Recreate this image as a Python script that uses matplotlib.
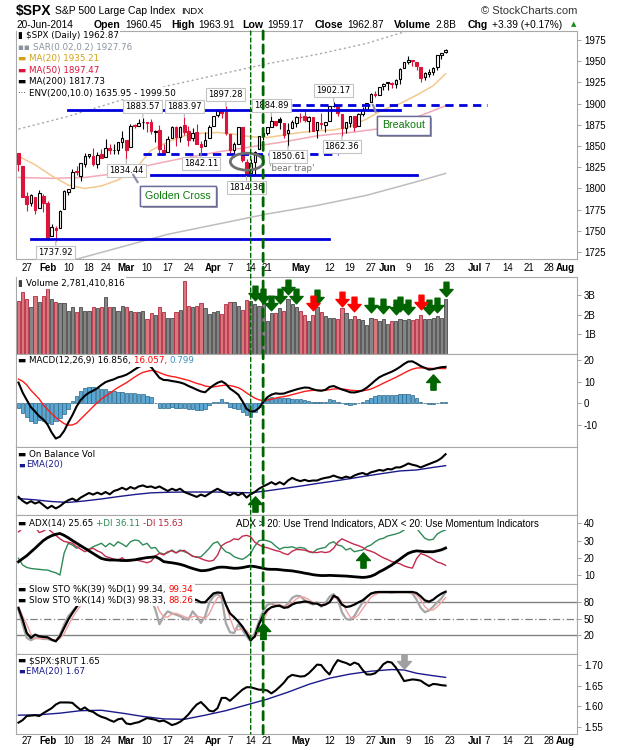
import numpy as np
import pandas as pd
import matplotlib
matplotlib.use("Agg")
import matplotlib.pyplot as plt
import matplotlib.patheffects as pe
import matplotlib.text as mtext
from matplotlib.path import Path
from matplotlib.patches import Ellipse, ConnectionPatch

plt.rcParams['font.family'] = ['DejaVu Sans']

# ---------------- data ----------------
# trading calendar, the x axis counts trading days
holidays = ['2014-02-17', '2014-04-18', '2014-05-26', '2014-07-04']
calendar = pd.bdate_range('2014-01-23', '2014-08-08')
calendar = calendar[~calendar.isin(pd.to_datetime(holidays))]

tick_dates = ['2014-01-27', '2014-02-03', '2014-02-10', '2014-02-18', '2014-02-24',
              '2014-03-03', '2014-03-10', '2014-03-17', '2014-03-24', '2014-04-01',
              '2014-04-07', '2014-04-14', '2014-04-21', '2014-05-01', '2014-05-12',
              '2014-05-19', '2014-05-27', '2014-06-02', '2014-06-09', '2014-06-16',
              '2014-06-23', '2014-07-01', '2014-07-07', '2014-07-14', '2014-07-21',
              '2014-07-28', '2014-08-01']
tick_labels = ['27', 'Feb', '10', '18', '24', 'Mar', '10', '17', '24', 'Apr', '7', '14', '21',
               'May', '12', '19', '27', 'Jun', '9', '16', '23', 'Jul', '7', '14', '21', '28', 'Aug']

prev_close = 1844.86
opens = [1842.29, 1826.96, 1791.03, 1783.00, 1790.15, 1777.17, 1790.88, 1782.68, 1743.82, 1753.38,
         1752.99, 1776.01, 1796.20, 1800.45, 1820.12, 1814.82, 1828.46, 1838.22, 1838.70, 1829.24,
         1841.07, 1836.78, 1847.66, 1845.79, 1844.90, 1855.12, 1857.68, 1849.23, 1874.05, 1874.18,
         1878.52, 1877.86, 1878.26, 1866.15, 1869.06, 1845.07, 1842.81, 1858.92, 1872.25, 1860.09,
         1874.53, 1867.67, 1859.48, 1867.09, 1852.11, 1850.07, 1859.16, 1873.96, 1886.61, 1891.43,
         1890.25, 1863.92, 1845.48, 1852.64, 1872.28, 1830.65, 1818.18, 1831.45, 1846.01, 1861.73,
         1865.79, 1872.57, 1879.32, 1881.97, 1877.72, 1865.00, 1870.78, 1877.10, 1884.39, 1885.30,
         1879.45, 1883.69, 1868.53, 1877.39, 1875.27, 1880.03, 1896.75, 1897.13, 1888.16, 1871.19,
         1876.66, 1884.88, 1873.34, 1888.19, 1893.32, 1902.01, 1911.77, 1910.60, 1920.33, 1923.87,
         1923.07, 1923.06, 1928.52, 1942.41, 1948.97, 1950.34, 1949.37, 1943.35, 1930.80, 1934.84,
         1937.15, 1942.73, 1957.50, 1960.45]
highs = [1842.29, 1826.96, 1795.98, 1793.87, 1790.15, 1798.77, 1793.88, 1784.83, 1758.73, 1755.79,
         1774.06, 1798.03, 1799.94, 1823.54, 1826.55, 1830.25, 1841.65, 1840.76, 1847.50, 1842.79,
         1846.13, 1858.71, 1852.91, 1852.65, 1854.53, 1867.92, 1857.68, 1876.23, 1876.53, 1881.94,
         1883.57, 1877.87, 1882.35, 1868.38, 1874.40, 1852.44, 1862.30, 1873.76, 1874.14, 1873.49,
         1883.97, 1873.34, 1871.87, 1875.92, 1855.55, 1866.63, 1875.18, 1885.84, 1893.17, 1893.80,
         1897.28, 1864.04, 1854.95, 1872.43, 1872.53, 1835.07, 1834.19, 1844.02, 1862.31, 1869.63,
         1871.89, 1884.89, 1879.75, 1884.06, 1877.72, 1877.01, 1880.60, 1885.20, 1888.59, 1891.33,
         1885.51, 1883.69, 1878.83, 1889.07, 1878.57, 1897.13, 1902.17, 1897.13, 1888.16, 1878.28,
         1886.00, 1884.88, 1888.80, 1896.33, 1901.26, 1912.28, 1914.46, 1920.03, 1924.03, 1925.88,
         1925.07, 1928.63, 1941.74, 1949.44, 1955.55, 1950.86, 1949.37, 1943.35, 1937.30, 1941.15,
         1943.69, 1957.74, 1959.87, 1963.91]
lows = [1820.06, 1790.29, 1772.88, 1779.49, 1770.45, 1777.17, 1772.26, 1739.66, 1743.82, 1737.92,
        1752.99, 1776.01, 1791.83, 1800.41, 1815.97, 1809.22, 1825.59, 1835.48, 1826.99, 1824.58,
        1835.60, 1836.78, 1840.19, 1840.66, 1841.13, 1847.67, 1834.44, 1849.23, 1871.11, 1874.18,
        1870.56, 1867.04, 1863.88, 1854.38, 1841.86, 1839.57, 1842.81, 1858.92, 1850.35, 1854.63,
        1863.46, 1849.69, 1855.96, 1852.56, 1842.11, 1850.07, 1859.16, 1873.96, 1883.79, 1882.65,
        1863.26, 1841.48, 1837.49, 1852.38, 1830.87, 1814.36, 1815.80, 1816.29, 1846.01, 1856.72,
        1863.18, 1872.57, 1873.91, 1870.24, 1859.70, 1850.61, 1870.78, 1872.69, 1878.04, 1878.50,
        1866.77, 1867.72, 1859.79, 1870.05, 1867.02, 1880.03, 1896.06, 1885.77, 1862.36, 1864.82,
        1872.42, 1868.14, 1873.34, 1885.39, 1893.32, 1902.01, 1907.30, 1909.82, 1916.64, 1915.98,
        1918.79, 1918.60, 1922.93, 1942.41, 1947.16, 1944.64, 1940.08, 1925.78, 1927.69, 1930.91,
        1933.55, 1939.29, 1952.26, 1959.17]
closes = [1828.46, 1790.29, 1781.56, 1792.50, 1774.20, 1794.19, 1782.59, 1741.89, 1755.20, 1751.64,
          1773.43, 1797.02, 1799.84, 1819.75, 1819.26, 1829.83, 1838.63, 1840.76, 1828.75, 1839.78,
          1836.25, 1847.61, 1845.12, 1845.16, 1854.29, 1859.45, 1845.73, 1873.91, 1873.81, 1877.03,
          1878.04, 1877.17, 1867.63, 1868.20, 1846.34, 1841.13, 1858.83, 1872.25, 1860.77, 1872.01,
          1866.52, 1857.44, 1865.62, 1852.56, 1849.04, 1857.62, 1872.34, 1885.52, 1890.90, 1888.77,
          1865.09, 1845.04, 1851.96, 1872.18, 1833.08, 1815.69, 1830.61, 1842.98, 1862.31, 1864.85,
          1871.89, 1879.55, 1875.39, 1878.61, 1863.40, 1869.43, 1878.33, 1883.95, 1883.68, 1881.14,
          1884.66, 1867.72, 1878.21, 1875.63, 1878.48, 1896.65, 1897.45, 1888.53, 1870.85, 1877.86,
          1885.08, 1872.83, 1888.03, 1892.49, 1900.53, 1911.91, 1909.78, 1920.03, 1923.57, 1924.97,
          1924.24, 1927.88, 1940.46, 1949.44, 1951.27, 1950.79, 1943.89, 1930.11, 1936.16, 1937.78,
          1941.99, 1956.98, 1959.48, 1962.87]
volume_b = [2.68, 3.14, 2.80, 2.40, 2.95, 2.63, 2.97, 3.40, 2.80, 2.63,
            2.58, 2.58, 2.20, 2.37, 2.15, 2.37, 2.20, 2.20, 2.37, 2.32,
            2.37, 2.90, 2.37, 2.37, 2.20, 2.42, 2.37, 2.20, 2.16, 2.16,
            2.20, 1.80, 2.10, 2.00, 2.37, 2.15, 1.85, 1.82, 2.15, 2.25,
            3.73, 2.45, 2.37, 2.42, 2.60, 2.32, 2.05, 2.15, 2.20, 2.05,
            2.55, 2.63, 2.67, 2.42, 2.25, 2.73, 2.68, 2.55, 2.45, 2.63,
            1.70, 2.11, 2.11, 2.32, 2.20, 2.80, 2.55, 2.40, 2.20, 1.97,
            1.70, 2.00, 2.37, 2.15, 1.91, 1.85, 1.85, 1.77, 2.32, 2.11,
            1.77, 1.91, 1.77, 1.72, 1.46, 1.85, 1.77, 1.68, 1.80, 1.51,
            1.68, 1.68, 1.77, 1.72, 1.77, 1.74, 1.77, 1.97, 1.80, 1.80,
            1.85, 1.91, 1.85, 2.78]

# moving averages read at a few dates (trading day numbers)
ma20_days = [0, 4, 8, 12, 16, 20, 24, 28, 32, 36, 40, 44, 48, 52, 56, 60, 64, 68, 72, 76, 80, 84, 88, 92, 96, 100, 103]
ma20 = [1838, 1828, 1815, 1804, 1800, 1803, 1810, 1822, 1845, 1855, 1862, 1865, 1866, 1864, 1861, 1860,
        1863, 1866, 1868, 1869, 1873, 1882, 1893, 1900, 1910, 1921, 1935.21]
ma50_days = [0, 8, 16, 24, 32, 40, 48, 56, 64, 72, 80, 88, 96, 103]
ma50 = [1813, 1812, 1813, 1818, 1828, 1836, 1843, 1849, 1855, 1862, 1866, 1871, 1884, 1897.47]
ma200_days = [0, 12, 24, 36, 48, 60, 72, 84, 96, 103]
ma200 = [1700, 1714, 1730, 1746, 1758, 1770, 1780, 1792, 1808, 1817.73]
env_upper = [1870, 1885, 1903, 1921, 1934, 1947, 1958, 1971, 1989, 1999.50]

macd = [9.6, 5.0, 1.5, -1.8, -3.8, -6.0, -7.5, -9.8, -13.5, -16.3,
        -15.4, -12.8, -9.0, -5.5, -1.5, 1.5, 3.5, 4.9, 5.8, 7.0,
        8.5, 9.8, 10.5, 11.1, 12.0, 12.5, 13.2, 14.3, 15.6, 16.8,
        17.6, 17.8, 16.8, 14.2, 11.8, 10.8, 10.7, 10.3, 10.0, 9.6,
        9.0, 8.0, 7.2, 6.3, 5.5, 5.1, 6.8, 8.3, 9.5, 10.2,
        9.0, 6.8, 5.5, 4.0, 1.0, -2.5, -3.8, -3.6, -2.2, 0.5,
        2.8, 4.0, 4.6, 4.4, 4.5, 5.2, 5.8, 6.4, 6.9, 7.3,
        7.2, 6.5, 6.0, 5.8, 6.2, 7.6, 8.0, 7.2, 6.4, 5.8,
        5.1, 5.0, 5.4, 6.0, 7.2, 8.8, 10.5, 12.0, 13.0, 13.8,
        14.6, 15.6, 16.8, 18.2, 19.3, 19.4, 18.4, 17.2, 16.4, 15.6,
        15.8, 16.3, 16.7, 16.856]
macd_signal = [11.2, 10.2, 8.5, 6.0, 4.0, 2.0, -0.8, -2.8, -4.8, -6.6,
               -8.0, -9.4, -10.1, -10.0, -9.2, -7.3, -5.4, -3.5, -1.5, 0.3,
               2.0, 3.4, 4.6, 6.0, 7.3, 8.4, 9.5, 10.8, 12.1, 13.3,
               14.3, 14.8, 15.2, 15.0, 14.2, 13.4, 12.8, 12.4, 12.1, 11.6,
               11.1, 10.6, 9.9, 9.2, 8.7, 8.0, 7.7, 7.6, 7.9, 8.2,
               8.4, 8.2, 7.8, 7.2, 6.2, 4.8, 3.6, 2.4, 1.6, 1.3,
               1.5, 1.9, 2.4, 2.8, 3.1, 3.5, 4.0, 4.5, 5.0, 5.5,
               5.8, 6.0, 6.0, 6.0, 6.0, 6.3, 6.6, 6.7, 6.6, 6.4,
               6.1, 5.9, 5.8, 5.8, 6.1, 6.6, 7.4, 8.3, 9.3, 10.2,
               11.1, 12.0, 13.0, 14.0, 15.0, 15.8, 16.3, 16.4, 16.3, 16.2,
               16.1, 16.1, 16.1, 16.057]
macd_hist = [-2.3, -4.6, -6.5, -8.0, -9.0, -7.7, -8.4, -9.2, -9.5, -8.0,
             -6.9, -5.0, -2.5, 1.0, 3.5, 5.7, 7.0, 7.6, 7.4, 7.0,
             6.8, 6.4, 5.9, 5.6, 5.2, 5.1, 4.8, 4.6, 4.6, 4.4,
             4.2, 3.6, 2.7, 0.2, -2.0, -2.1, -2.2, -1.6, -2.2, -2.0,
             -2.3, -2.5, -2.6, -2.9, -3.1, -2.6, -1.0, 0.6, 0.8, 2.0,
             0.8, -1.5, -2.3, -2.5, -4.0, -5.4, -6.2, -3.8, -1.5, 1.5,
             2.3, 2.8, 2.6, 2.3, 2.3, 2.3, 2.0, 1.8, 1.8, 1.5,
             1.2, 0.8, 0.5, 0.8, 0.8, 1.8, 1.5, 0.8, 0.3, -0.3,
             -0.8, -0.3, 0.3, 0.8, 1.5, 2.3, 3.4, 3.8, 3.8, 3.8,
             3.8, 3.8, 4.2, 4.2, 4.2, 3.8, 2.3, 0.8, 0.3, -0.5,
             -0.3, 0.3, 0.6, 0.799]

# on balance volume, relative units (panel has no scale)
obv = [26.6, 20.8, 16.9, 20.3, 16.9, 19.3, 14.5, 9.7, 13.5, 9.7,
       13.0, 17.9, 21.7, 24.2, 20.8, 25.6, 29.0, 32.4, 30.0, 32.9,
       30.4, 33.8, 30.4, 35.3, 37.2, 40.1, 37.2, 41.1, 38.6, 42.0,
       43.5, 41.1, 42.0, 39.6, 42.0, 38.6, 35.3, 38.6, 36.2, 38.6,
       33.8, 31.4, 29.0, 26.6, 30.0, 27.5, 31.4, 35.3, 38.6, 35.3,
       32.4, 29.0, 32.4, 29.0, 32.4, 25.6, 30.4, 33.8, 38.6, 42.0,
       44.9, 48.3, 44.9, 48.3, 44.9, 50.7, 54.6, 51.7, 49.8, 51.7,
       49.8, 50.7, 50.7, 53.1, 54.6, 55.6, 58.0, 55.6, 54.1, 56.5,
       54.6, 58.0, 60.4, 61.8, 59.4, 62.8, 64.3, 66.2, 65.2, 67.6,
       67.1, 70.0, 70.0, 72.5, 75.8, 73.9, 72.5, 70.0, 72.5, 74.9,
       77.3, 79.7, 83.6, 89.4]
obv_ema_days = [0, 4, 8, 12, 16, 20, 24, 28, 32, 36, 40, 44, 48, 52, 56, 60, 64, 68, 72, 76, 80, 84, 88, 92, 96, 100, 103]
obv_ema = [24.2, 22.3, 19.8, 18.5, 20.7, 23.6, 27.0, 30.1, 32.6, 33.4, 33.8, 33.8, 33.8, 33.2, 32.6, 35.6,
           39.0, 42.5, 46.3, 49.8, 53.5, 57.5, 61.2, 64.8, 66.2, 70.0, 72.5]

adx = [17.7, 19.5, 21.2, 23.4, 25.5, 27.8, 30.0, 31.6, 32.8, 33.6,
       34.1, 33.0, 31.6, 30.0, 28.5, 27.0, 25.5, 24.0, 22.5, 21.0,
       19.6, 19.0, 18.7, 18.7, 18.6, 18.4, 18.4, 18.6, 18.8, 19.3,
       19.7, 20.1, 20.3, 20.6, 19.5, 17.8, 17.4, 17.1, 16.7, 16.2,
       15.5, 14.6, 13.8, 13.1, 12.5, 12.6, 13.0, 13.7, 14.4, 14.6,
       14.5, 14.2, 13.9, 14.0, 14.3, 14.8, 15.2, 14.9, 14.4, 13.9,
       13.4, 13.3, 13.3, 13.1, 12.8, 12.6, 12.4, 12.0, 11.6, 11.1,
       10.7, 10.2, 9.9, 9.7, 9.7, 9.8, 9.7, 9.6, 9.5, 9.4,
       9.2, 9.0, 8.8, 8.6, 8.8, 9.3, 10.3, 11.8, 13.0, 14.4,
       15.8, 17.5, 19.2, 21.0, 22.6, 23.5, 24.0, 23.8, 23.5, 23.5,
       23.5, 24.0, 24.6, 25.65]
plus_di = [19.7, 15.8, 14.4, 13.8, 13.5, 13.3, 13.0, 12.9, 12.0, 11.3,
           10.0, 22.6, 28.4, 27.4, 25.5, 26.8, 25.5, 24.9, 26.4, 27.4,
           28.4, 26.4, 28.4, 26.8, 29.3, 28.0, 26.4, 29.3, 30.3, 29.9,
           27.4, 28.4, 25.5, 26.0, 22.9, 22.2, 22.9, 24.5, 22.9, 24.5,
           23.5, 22.6, 21.0, 20.2, 20.6, 22.9, 25.5, 28.4, 29.3, 26.0,
           23.5, 22.6, 20.6, 19.7, 19.1, 20.5, 22.6, 26.8, 29.9, 30.3,
           29.9, 29.0, 26.8, 24.9, 26.0, 26.0, 26.4, 25.5, 26.0, 25.5,
           23.5, 22.9, 24.9, 25.5, 26.0, 28.4, 29.3, 27.4, 26.8, 24.5,
           25.5, 23.5, 24.1, 24.5, 26.4, 27.4, 29.3, 30.7, 31.3, 32.6,
           33.2, 33.8, 34.6, 36.1, 38.4, 39.0, 37.1, 34.2, 31.3, 30.3,
           30.7, 33.8, 35.2, 36.11]
minus_di = [35.0, 37.0, 40.0, 39.0, 38.0, 34.6, 35.5, 37.0, 35.0, 33.0,
            31.0, 29.5, 29.0, 28.4, 26.5, 25.0, 23.5, 24.9, 25.5, 24.0,
            23.0, 20.8, 20.0, 19.2, 18.7, 20.0, 18.0, 18.2, 18.7, 18.4,
            17.8, 17.1, 18.0, 21.0, 22.6, 21.6, 23.5, 24.0, 22.8, 24.0,
            24.3, 22.5, 20.8, 20.6, 19.5, 18.6, 18.0, 18.5, 21.5, 27.0,
            28.6, 29.5, 31.0, 30.5, 32.5, 33.0, 32.2, 29.0, 27.5, 26.3,
            25.8, 25.0, 24.2, 23.7, 22.5, 21.8, 23.8, 24.8, 24.7, 24.4,
            23.7, 23.2, 23.0, 23.5, 23.0, 23.5, 25.5, 29.0, 31.0, 29.9,
            28.8, 27.8, 27.0, 26.0, 24.5, 23.8, 22.8, 21.3, 20.0, 19.0,
            17.8, 17.2, 16.5, 15.3, 14.5, 14.0, 19.5, 22.5, 21.6, 20.5,
            19.0, 17.5, 16.8, 15.63]

sto_k39 = [69.7, 48.5, 24.2, 15.2, 21.2, 18.2, 17.0, 16.4, 12.1, 9.1,
           18.2, 33.3, 48.5, 60.6, 71.5, 82, 86, 88, 90, 87,
           90, 91, 93, 94, 95, 96, 90, 96, 97, 98,
           98, 97, 94, 92, 88, 88, 90, 88, 87, 88,
           90, 89, 86, 84, 80, 80, 88, 96, 98, 97,
           76, 60, 53, 45, 36, 24, 11, 18, 40, 56,
           66, 71, 73, 74, 70, 71, 76, 79, 80, 81.5,
           80.5, 78, 77.6, 74, 75.8, 80, 92, 88, 75.8, 71.5,
           72.7, 75.8, 80, 83.6, 89.7, 95.8, 98.2, 98.8, 98.8, 98.8,
           98.8, 98.8, 98.8, 98.8, 98.8, 98.8, 97, 90.9, 83.6, 81.2,
           84.8, 90.9, 95.8, 99.34]
sto_k14 = [66.7, 39.4, 15.2, 11.0, 15.2, 15.2, 13.3, 13.3, 11.0, 9.1,
           21.2, 39.4, 54.5, 63.6, 72.7, 84, 90, 92, 94, 85,
           88, 90, 94, 95, 96, 97, 82, 95, 97, 98,
           98, 95, 86, 67, 40, 54.5, 63.6, 60, 57.6, 54.5,
           50, 48.5, 63.6, 54.5, 42.4, 54.5, 78.8, 91, 95, 88,
           42.4, 25.5, 24.2, 39.4, 30, 18.2, 9.1, 24.2, 45.5, 63.6,
           75.8, 77.6, 75, 72.7, 71.5, 77.6, 88, 92, 91, 84,
           79, 76, 80, 72, 78, 90, 95, 85, 62, 50,
           48, 55, 68, 80, 90, 96, 97, 98, 98, 98,
           97, 98, 98, 98, 98, 96, 85, 70, 62, 65,
           72, 80, 87, 98.33]
sto_d3 = [72, 55, 40, 22, 14, 14, 14.5, 14, 12.5, 11,
          14, 23, 38, 52, 64, 74, 82, 89, 92, 90,
          89, 88, 91, 93, 95, 96, 92, 91, 91, 97,
          98, 97, 93, 83, 64, 54, 53, 59, 60, 57,
          54, 51, 54, 55, 53, 50, 59, 75, 88, 91,
          75, 52, 31, 30, 31, 29, 19, 17, 26, 44,
          62, 72, 76, 75, 73, 74, 79, 86, 90, 89,
          85, 80, 78, 76, 77, 80, 88, 90, 81, 66,
          53, 51, 57, 68, 79, 89, 94, 97, 98, 98,
          98, 98, 98, 98, 98, 97, 93, 85, 72, 66,
          66, 72, 80, 88.26]

spx_rut = [1.560, 1.566, 1.576, 1.577, 1.578, 1.576, 1.583, 1.589, 1.595, 1.604,
           1.609, 1.609, 1.609, 1.608, 1.599, 1.591, 1.597, 1.589, 1.586, 1.579,
           1.574, 1.571, 1.566, 1.562, 1.568, 1.570, 1.558, 1.556, 1.559, 1.561,
           1.566, 1.571, 1.569, 1.567, 1.563, 1.565, 1.560, 1.554, 1.557, 1.562,
           1.570, 1.580, 1.593, 1.604, 1.610, 1.600, 1.589, 1.587, 1.595, 1.620,
           1.620, 1.613, 1.622, 1.631, 1.640, 1.646, 1.646, 1.643, 1.640, 1.640,
           1.638, 1.631, 1.638, 1.647, 1.657, 1.670, 1.676, 1.674, 1.672, 1.673,
           1.680, 1.690, 1.701, 1.700, 1.687, 1.677, 1.697, 1.712, 1.708, 1.705,
           1.700, 1.706, 1.702, 1.688, 1.677, 1.677, 1.680, 1.689, 1.702, 1.708,
           1.706, 1.694, 1.678, 1.661, 1.663, 1.665, 1.664, 1.662, 1.655, 1.649,
           1.654, 1.653, 1.651, 1.650]
ratio_ema_days = [0, 5, 10, 15, 20, 25, 30, 35, 40, 45, 50, 55, 60, 65, 70, 75, 80, 85, 90, 93, 96, 100, 103]
ratio_ema = [1.578, 1.579, 1.583, 1.589, 1.590, 1.583, 1.575, 1.569, 1.568, 1.578, 1.589, 1.603,
             1.617, 1.634, 1.653, 1.668, 1.678, 1.685, 1.689, 1.688, 1.680, 1.674, 1.670]

# annotations drawn on the chart
high_label_dates = ['2014-03-07', '2014-03-21', '2014-04-04', '2014-04-22', '2014-05-13']
low_label_dates = ['2014-02-05', '2014-03-03', '2014-03-27', '2014-04-11', '2014-04-28', '2014-05-15']
level_lines = [  # price, from, to, dashed
    (1892.0, '2014-02-10', '2014-06-05', False),
    (1898.8, '2014-04-29', '2014-07-07', True),
    (1840.7, '2014-03-07', '2014-05-14', True),
    (1815.4, '2014-03-11', '2014-06-11', False),
    (1740.8, '2014-01-28', '2014-05-12', False),
]
marker_dates = ['2014-04-14', '2014-04-17']
vol_up_arrow_dates = ['2014-04-15', '2014-04-17', '2014-04-22', '2014-04-24', '2014-04-28', '2014-04-30',
                      '2014-05-07', '2014-05-27', '2014-05-30', '2014-06-04', '2014-06-05', '2014-06-09',
                      '2014-06-16', '2014-06-18', '2014-06-20']
vol_up_arrow_at = [3.10, 2.95, 2.62, 2.96, 3.39, 2.93, 2.88, 2.49, 2.45, 2.37, 2.54, 2.37, 2.37, 2.49, 3.31]
vol_dn_arrow_dates = ['2014-05-06', '2014-05-15', '2014-05-20', '2014-06-12']
vol_dn_arrow_at = [2.62, 2.79, 2.54, 2.66]

# ---------------- drawing ----------------
RED = '#dc143c'
GREEN = '#006400'
FW, FH = 620, 750
L, R = 16, 577
AXFONT = 'Liberation Sans'


def day(s):
    return calendar.get_loc(pd.Timestamp(s))


def arrow_marker(down):
    s = -1 if down else 1
    verts = [(-0.17, -0.5 * s), (0.17, -0.5 * s), (0.17, 0.0), (0.45, 0.0), (0.0, 0.5 * s),
             (-0.45, 0.0), (-0.17, 0.0), (-0.17, -0.5 * s)]
    return Path(verts, [Path.MOVETO] + [Path.LINETO] * 6 + [Path.CLOSEPOLY])


def legend_row(ax, x, y, parts, size=6.3):
    box = dict(facecolor='white', edgecolor='none', pad=1.0)
    t = ax.text(x, y, parts[0][0], color=parts[0][1], fontsize=size, transform=ax.transAxes,
                ha='left', va='center', bbox=box, zorder=10)
    for s, c in parts[1:]:
        t = ax.annotate(s, xy=(1, 0), xycoords=t, ha='left', va='bottom', color=c,
                        fontsize=size, bbox=box, zorder=10)
    return t


fig = plt.figure(figsize=(FW / 100, FH / 100), dpi=100)


def panel(top, bottom, share=None):
    return fig.add_axes([L / FW, 1 - bottom / FH, (R - L) / FW, (bottom - top) / FH], sharex=share)


ax_p = panel(31, 259)
ax_v = panel(277, 354, ax_p)
ax_m = panel(354, 447, ax_p)
ax_o = panel(447, 515, ax_p)
ax_a = panel(515, 584, ax_p)
ax_s = panel(584, 654, ax_p)
ax_r = panel(654, 734, ax_p)

tick_pos = [day(d) for d in tick_dates]


def style(ax, ylim, yticks=None, ylabels=None):
    ax.set_ylim(*ylim)
    ax.yaxis.tick_right()
    if yticks is None:
        ax.set_yticks([])
    else:
        ax.set_yticks(yticks)
        ax.set_yticklabels(ylabels, fontfamily=AXFONT, fontsize=7)
    ax.tick_params(axis='y', length=3, width=0.6, color='#909090', pad=2)
    ax.tick_params(axis='x', length=0, labelbottom=False)
    for s in ax.spines.values():
        s.set_color('#a8a8a8')
        s.set_linewidth(0.8)


x = np.arange(len(closes))
o, h, l, c = (np.array(v) for v in (opens, highs, lows, closes))
prev = np.concatenate([[prev_close], c[:-1]])
up_day = c >= prev
bar_col = np.where(up_day, 'black', RED)

# --- price panel
ax = ax_p
style(ax, (1716.9, 1985.6), list(range(1725, 1976, 25)), [str(v) for v in range(1725, 1976, 25)])
ax.set_xlim(-0.6, 134.7)
ax.plot(ma200_days, env_upper, color='#a8a8a8', lw=1, ls=(0, (1.5, 2)), zorder=1)
ax.plot(ma200_days, ma200, color='#bdbdbd', lw=1.1, zorder=1)
ax.plot(ma50_days, ma50, color='#f2a9b8', lw=1.1, zorder=1)
ax.plot(ma20_days, ma20, color='#f3c98f', lw=1.1, zorder=1)
ax.vlines(x, l, h, colors=bar_col, lw=0.8, zorder=3)
face = np.where(c >= o, 'white', bar_col)
ax.bar(x, np.maximum(np.abs(c - o), 0.5), bottom=np.minimum(o, c), width=0.62,
       color=face, edgecolor=bar_col, lw=0.8, zorder=4)
for price, d0, d1, dashed in level_lines:
    ax.plot([day(d0), day(d1)], [price, price], color='#0000dd', lw=2,
            ls=(0, (3, 2)) if dashed else '-', zorder=5)
lab_box = dict(boxstyle='square,pad=0.25', fc='white', ec='#c4c4c4', lw=0.8)
for d in high_label_dates:
    i = day(d)
    ax.annotate(f'{highs[i]:.2f}', xy=(i, highs[i]), xytext=(0, 8), textcoords='offset points',
                ha='center', va='center', fontsize=6, bbox=lab_box, zorder=8,
                arrowprops=dict(arrowstyle='-', color='#b4b4b4', lw=0.8, shrinkA=0, shrinkB=0))
for d in low_label_dates:
    i = day(d)
    ax.annotate(f'{lows[i]:.2f}', xy=(i, lows[i]), xytext=(0, -8), textcoords='offset points',
                ha='center', va='center', fontsize=6, bbox=lab_box, zorder=8,
                arrowprops=dict(arrowstyle='-', color='#b4b4b4', lw=0.8, shrinkA=0, shrinkB=0))
ax.add_patch(Ellipse((day('2014-04-11') + 0.1, 1831.6), 8, 20, fill=False, ec='#6e6e6e', lw=2, zorder=6))
ax.text(day('2014-04-29'), 1823.8, "'bear trap'", color='#707070', fontsize=6.3, ha='center', va='center', zorder=8)
callout_box = dict(boxstyle='square,pad=0.45', fc='white', ec='#6b6b9b', lw=1)
for label, pos, tail, tip in [('Golden Cross', (38.5, 1791.4), (29.1, 1804.5), (27.3, 1819.0)),
                              ('Breakout', (92.8, 1874.3), (86.4, 1887.2), (85.2, 1901.9))]:
    ax.annotate('', xy=tip, xytext=tail, arrowprops=dict(arrowstyle='-', color='#8c8cb0', lw=1.6), zorder=8)
    t = ax.text(*pos, label, color='#0b7a0b', fontsize=7.7, family=AXFONT, ha='center', va='center',
                bbox=callout_box, zorder=9)
    t.get_bbox_patch().set_path_effects([pe.withSimplePatchShadow(offset=(1.5, -1.5), shadow_rgbFace='#9a9a9a', alpha=0.9), pe.Normal()])
legend_rows = [
    [('▮ ', 'black'), (f'\\$SPX (Daily) {closes[-1]:.2f}', 'black')],
    [('▪▪ ', '#8a94a0'), ('SAR(0.02,0.2) 1927.76', '#8a94a0')],
    [('▬ ', '#d4a017'), (f'MA(20) {ma20[-1]:.2f}', '#d4a017')],
    [('▬ ', RED), (f'MA(50) {ma50[-1]:.2f}', RED)],
    [('▬ ', 'black'), (f'MA(200) {ma200[-1]:.2f}', 'black')],
    [('··· ', 'black'), (f'ENV(200,10.0) 1635.95 - {env_upper[-1]:.2f}', 'black')],
]
for k, parts in enumerate(legend_rows):
    legend_row(ax, 0.004, 0.979 - k * 0.0505, parts)

# --- volume panel
ax = ax_v
style(ax, (0, 3.92), [1, 2, 3], ['1B', '2B', '3B'])
ax.bar(x, volume_b, width=0.78, color=np.where(up_day, '#858585', '#d9777f'),
       edgecolor=np.where(up_day, '#4a4a4a', '#b5283f'), lw=0.6, zorder=2)
ax.plot([day(d) for d in vol_up_arrow_dates], vol_up_arrow_at, ls='none', marker=arrow_marker(True),
        ms=10.5, color=GREEN, mec=GREEN, zorder=6)
ax.plot([day(d) for d in vol_dn_arrow_dates], vol_dn_arrow_at, ls='none', marker=arrow_marker(True),
        ms=10.5, color='#ff0000', mec='#ff0000', zorder=6)
legend_row(ax, 0.004, 0.92, [('▮ ', '#404040'), ('Volume 2,781,410,816', 'black')])

# --- MACD panel
ax = ax_m
style(ax, (-20.2, 22.8), [-10, 0, 10, 20], ['-10', '0', '10', '20'])
ax.bar(x, macd_hist, width=0.85, color='#5aa7d4', edgecolor='#2c6688', lw=0.5, zorder=2)
ax.plot(x, macd_signal, color='#ff1a1a', lw=1, zorder=3)
ax.plot(x, macd, color='black', lw=1.5, zorder=4)
ax.plot([day('2014-06-17')], [9.7], ls='none', marker=arrow_marker(False), ms=11, color=GREEN, zorder=6)
legend_row(ax, 0.004, 0.925, [('▬ ', 'black'), (f'MACD(12,26,9) {macd[-1]:.3f}, ', 'black'),
                              (f'{macd_signal[-1]:.3f}, ', '#ff0000'), (f'{macd_hist[-1]:.3f}', '#3a8fc0')])

# --- OBV panel
ax = ax_o
style(ax, (0, 100))
ax.plot(obv_ema_days, obv_ema, color='#1a1a8c', lw=1, zorder=3)
ax.plot(x, obv, color='black', lw=1.5, zorder=4)
ax.plot([day('2014-04-15')], [16], ls='none', marker=arrow_marker(False), ms=11, color=GREEN, zorder=6)
legend_row(ax, 0.004, 0.895, [('▬ ', 'black'), ('On Balance Vol', 'black')])
legend_row(ax, 0.004, 0.74, [('▬', '#1a1a8c'), ('EMA(20)', '#1a1a8c')])

# --- ADX panel
ax = ax_a
style(ax, (4.8, 44.8), [10, 20, 30, 40], ['10', '20', '30', '40'])
ax.plot(x, plus_di, color='#2e8b57', lw=1, zorder=3)
ax.plot(x, minus_di, color='#c42a4d', lw=1, zorder=3)
ax.plot(x, adx, color='black', lw=2, zorder=4)
ax.plot([day('2014-05-22')], [18.5], ls='none', marker=arrow_marker(False), ms=11, color=GREEN, zorder=6)
legend_row(ax, 0.004, 0.87, [('▬ ', 'black'), (f'ADX(14) {adx[-1]:.2f} ', 'black'),
                             (f'+DI {plus_di[-1]:.2f} ', '#2e8b57'), (f'-DI {minus_di[-1]:.2f}', '#b22234')])
ax.text(0.392, 0.87, 'ADX > 20: Use Trend Indicators, ADX < 20: Use Momentum Indicators', transform=ax.transAxes,
        fontsize=7, family=AXFONT, va='center', ha='left', zorder=10,
        bbox=dict(facecolor='white', edgecolor='none', pad=1.0))

# --- slow stochastics panel
ax = ax_s
style(ax, (-14, 113.3), [20, 50, 80], ['20', '50', '80'])
ax.axhline(80, color='#808080', lw=1, zorder=1)
ax.axhline(20, color='#808080', lw=1, zorder=1)
ax.axhline(50, color='#808080', lw=0.9, ls=(0, (6, 2, 1, 2)), zorder=1)
ax.plot(x, sto_k14, color='#a6a6a6', lw=1.6, zorder=2)
ax.plot(x, sto_d3, color='#f2a0a0', lw=1, zorder=3)
ax.plot(x, sto_k39, color='black', lw=1.6, zorder=4)
ax.plot([day('2014-04-17')], [27.3], ls='none', marker=arrow_marker(False), ms=11.5, color=GREEN, zorder=6)
legend_row(ax, 0.004, 0.92, [('▬ ', 'black'), (f'Slow STO %K(39) %D(1) {sto_k39[-1]:.2f}, ', 'black'),
                             (f'{sto_k39[-1]:.2f}', '#ff0000')])
legend_row(ax, 0.004, 0.77, [('▬ ', 'black'), (f'Slow STO %K(14) %D(3) {sto_k14[-1]:.2f}, ', 'black'),
                             (f'{sto_d3[-1]:.2f}', '#ff0000')])

# --- SPX:RUT ratio panel
ax = ax_r
style(ax, (1.5323, 1.7268), [1.55, 1.60, 1.65, 1.70], ['1.55', '1.60', '1.65', '1.70'])
ax.plot(ratio_ema_days, ratio_ema, color='#1a1a8c', lw=1, zorder=3)
ax.plot(x, spx_rut, color='black', lw=1.5, zorder=4)
ax.plot([day('2014-06-06')], [1.7105], ls='none', marker=arrow_marker(True), ms=11, color='#a0a0a0', zorder=6)
legend_row(ax, 0.004, 0.916, [('▬ ', 'black'), (f'\\$SPX:\\$RUT {spx_rut[-1]:.2f}', 'black')])
legend_row(ax, 0.004, 0.78, [('▬', '#1a1a8c'), (f'EMA(20) {ratio_ema[-1]:.2f}', '#1a1a8c')])

# date labels under the price panel and the last panel
ax_p.set_xticks(tick_pos)
ax_p.set_xticklabels(tick_labels)
for ax, pad in ((ax_p, 3.0), (ax_r, 1.5)):
    ax.tick_params(axis='x', length=0, pad=pad, labelbottom=True)
    for t, s in zip(ax.get_xticklabels(), tick_labels):
        t.set_fontfamily(AXFONT)
        t.set_fontsize(7)
        if not s.isdigit():
            t.set_fontweight('bold')

# green dashed markers running through every panel
for d, lw in zip(marker_dates, (1.0, 2.0)):
    xi = day(d)
    con = ConnectionPatch(xyA=(xi, 1), coordsA=ax_p.get_xaxis_transform(),
                          xyB=(xi, 0), coordsB=ax_r.get_xaxis_transform(),
                          color=GREEN, lw=lw, ls=(0, (3, 2)), zorder=20)
    fig.add_artist(con)


# header
def ftxt(px, py, s, **kw):
    return fig.text(px / FW, 1 - py / FH, s, va='center', ha=kw.pop('ha', 'left'), **kw)


ftxt(16, 11, '\\$SPX', fontsize=10, fontweight='bold', family=AXFONT)
ftxt(55, 11, 'S&P 500 Large Cap Index', fontsize=7.5, family=AXFONT)
ftxt(181, 11, 'INDX', fontsize=6.8, family=AXFONT)
ftxt(577, 11, '© StockCharts.com', fontsize=8, family=AXFONT, color='#333333', ha='right')
ftxt(16, 24.5, '20-Jun-2014', fontsize=7.3, family=AXFONT)
row2 = [(94, 'Open', f'{opens[-1]:.2f}'), (171, 'High', f'{highs[-1]:.2f}'), (242, 'Low', f'{lows[-1]:.2f}'),
        (315, 'Close', f'{closes[-1]:.2f}'), (394, 'Volume', '2.8B'),
        (468, 'Chg', f'+{closes[-1] - closes[-2]:.2f} (+{(closes[-1] / closes[-2] - 1) * 100:.2f}%)')]
for px, name, val in row2:
    t = ftxt(px, 24.5, name, fontsize=7.6, fontweight='bold', family=AXFONT)
    fig.add_artist(mtext.Annotation(val, xy=(1, 0), xycoords=t, xytext=(3, 0), textcoords='offset points',
                                    fontsize=7.3, family=AXFONT, va='bottom', ha='left'))
ftxt(571, 24.5, '▲', fontsize=5, color='#1a8a1a')

fig.savefig('out.png', dpi=100)
